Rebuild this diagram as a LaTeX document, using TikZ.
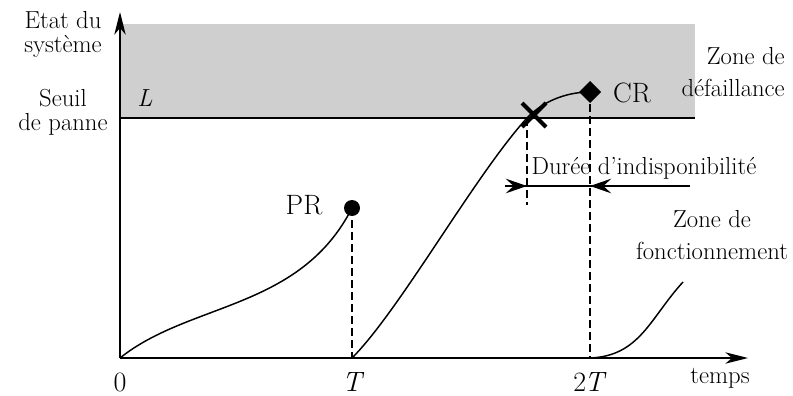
\documentclass[tikz,border=0pt]{standalone}
\usetikzlibrary{arrows.meta,calc}
\begin{document}
\begin{tikzpicture}[x=0.75pt,y=-0.75pt,
  lbl/.style={font=\fontsize{18.5}{18}\selectfont, align=center, inner sep=0pt},
  lblw/.style={font=\fontsize{18.5}{24}\selectfont, align=center, inner sep=0pt},
  big/.style={font=\fontsize{21}{24}\selectfont, inner sep=0pt},
  curve/.style={line width=1.1pt},
  guide/.style={dash pattern=on 6pt off 3pt, line width=0.9pt},
  axis/.style={line width=1.4pt, -{Stealth[length=17pt,width=8.5pt,inset=5pt]}},
  dim/.style={line width=1.1pt, -{Stealth[length=16pt,width=11pt,inset=6pt]}}]
\useasboundingbox (0,0) rectangle (793,396);
% failure zone
\fill[gray!38] (120,24) rectangle (695,118);
\draw[line width=1.1pt] (120,118) -- (695,118);
% axes
\coordinate (O) at (120,358);
\coordinate (ytip) at (120,12);
\coordinate (xtip) at (748,358);
\draw[axis] (O) -- (ytip);
\draw[axis] (O) -- (xtip);
% labels
\node[lbl] (etat) at (63,34) {Etat du\\syst\`eme};
\node[lbl] (seuil) at (63,112) {Seuil\\de panne};
\node[lbl] (L) at (145,98) {\itshape L};
\node[lblw, align=right, anchor=east] (zd) at (785,72) {Zone de\\d\'efaillance};
\node[lblw] (zf) at (712,235) {Zone de\\fonctionnement};
\node[lbl] (temps) at (720,378) {temps};
\node[big] (zero) at (120,382) {0};
\node[big] (T) at (352,382) {\itshape T};
\node[big] (TT) at (590,382) {2\kern-1.5pt\textit{T}};
% points
\coordinate (PRp) at (352,208);
\coordinate (CRp) at (590,92);
\coordinate (Xp) at (534,115);
\fill (PRp) circle (8);
\node[big] (PR) at (304,205) {PR};
\fill (590,81) -- (601,92) -- (590,103) -- (579,92) -- cycle;
\node[big] (CR) at (632,93) {CR};
% curves
\coordinate (Tb) at (352,358);
\coordinate (TTb) at (590,358);
\coordinate (Xc) at (527,118);
\draw[curve] (O) .. controls (190,302) and (300,310) .. (PRp);
\draw[curve] (Tb) .. controls (400,310) and (475,175) .. (Xc) .. controls (545,99) and (570,92) .. (CRp);
\draw[curve] (TTb) .. controls (640,356) and (650,318) .. (683,282);
% cross
\draw[line width=3pt] ($(Xp)+(-12,-12)$) -- ($(Xp)+(12,12)$) ($(Xp)+(-12,12)$) -- ($(Xp)+(12,-12)$);
% guides
\draw[guide] (PRp) -- (Tb);
\draw[guide] (CRp) -- (TTb);
\coordinate (Xg) at (527,205);
\draw[guide] (Xc) -- (Xg);
% duration
\coordinate (d1) at (527,186);
\coordinate (d2) at (590,186);
\coordinate (d0) at (505,186);
\coordinate (d3) at (690,186);
\draw[line width=1.1pt] (d0) -- (d3);
\draw[dim] (d0) -- (d1);
\draw[dim] (d3) -- (d2);
\node[lbl] (duree) at (644,168) {Dur\'ee d'indisponibilit\'e};
\end{tikzpicture}
\end{document}
